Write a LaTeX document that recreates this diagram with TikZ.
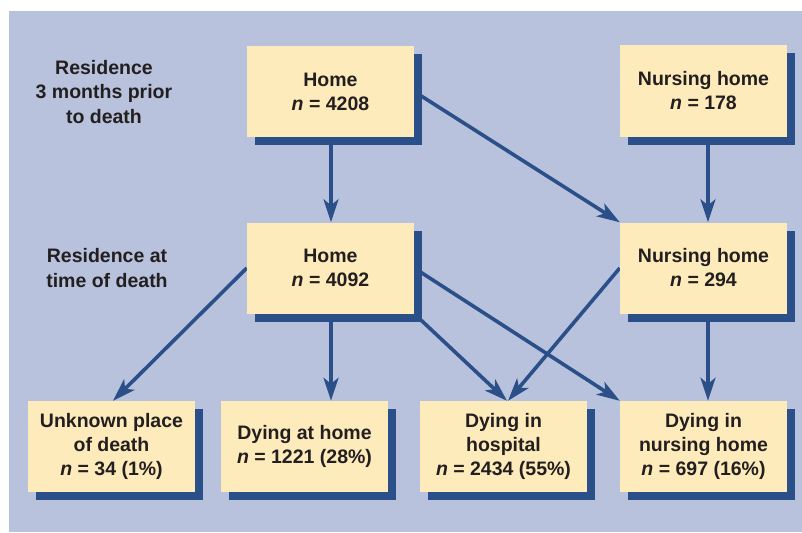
\documentclass[tikz,border=0pt]{standalone}
\usepackage{fontspec}
\setmainfont{Liberation Sans}
\usetikzlibrary{arrows.meta,shadows}
\definecolor{bgblue}{RGB}{184,194,220}
\definecolor{boxfill}{RGB}{254,235,187}
\definecolor{darkblue}{RGB}{43,80,137}
\definecolor{txt}{RGB}{35,31,32}
\pgfdeclarelayer{bg}
\pgfdeclarelayer{arr}
\pgfsetlayers{bg,arr,main}
\tikzset{
  box/.style={rectangle, fill=boxfill, minimum width=167pt, minimum height=91pt,
    inner sep=0pt, align=center, text=txt,
    font=\fontsize{19.5}{24}\selectfont\bfseries,
    drop shadow={shadow xshift=8pt, shadow yshift=-8pt, fill=darkblue, opacity=1}},
  lbl/.style={align=center, text=txt, inner sep=0pt,
    font=\fontsize{19.5}{24.5}\selectfont\bfseries},
  flow/.style={draw=darkblue, line width=3.6pt,
    -{Stealth[length=23pt,width=15pt,inset=6pt]}}
}
\begin{document}
\begin{tikzpicture}[x=1pt,y=-1pt]
\useasboundingbox (0,0) rectangle (802,532);
\begin{pgfonlayer}{bg}
\fill[bgblue] (9,11) rectangle (802,532);
\end{pgfonlayer}
\node[lbl] (lab1) at (104,92) {Residence\\3 months prior\\to death};
\node[lbl] (lab2) at (107,268) {Residence at\\time of death};
\node[box] (hometop) at (330.5,91.5) {Home\\\textit{n} = 4208};
\node[box] (nhtop) at (703.5,91) {Nursing home\\\textit{n} = 178};
\node[box] (homemid) at (330.5,268) {Home\\\textit{n} = 4092};
\node[box] (nhmid) at (703.5,268) {Nursing home\\\textit{n} = 294};
\node[box] (unknown) at (111.5,446.5) {Unknown place\\of death\\\textit{n} = 34 (1\%)};
\node[box] (dyhome) at (304.5,446.5) {Dying at home\\\textit{n} = 1221 (28\%)};
\node[box] (hosp) at (503.5,446.5) {Dying in\\hospital\\\textit{n} = 2434 (55\%)};
\node[box] (dynh) at (703.5,446.5) {Dying in\\nursing home\\\textit{n} = 697 (16\%)};
\begin{pgfonlayer}{arr}
\draw[flow] ([xshift=0.5pt]hometop.center) -- ([xshift=0.5pt]homemid.north);
\draw[flow] (hometop.east) -- (nhmid.north west);
\draw[flow] ([xshift=4.5pt]nhtop.center) -- ([xshift=4.5pt]nhmid.north);
\draw[flow] (homemid.west) -- ([xshift=1.5pt]unknown.north);
\draw[flow] ([xshift=0.5pt]homemid.center) -- ([xshift=0.5pt]homemid.center |- dyhome.north);
\draw[flow] (homemid.south east) -- ([xshift=3.5pt]hosp.north);
\draw[flow] (homemid.east) -- (dynh.north west);
\draw[flow] (nhmid.west) -- ([xshift=4.5pt]hosp.north);
\draw[flow] ([xshift=4.5pt]nhmid.center) -- ([xshift=4.5pt]dynh.north);
\end{pgfonlayer}
\end{tikzpicture}
\end{document}
